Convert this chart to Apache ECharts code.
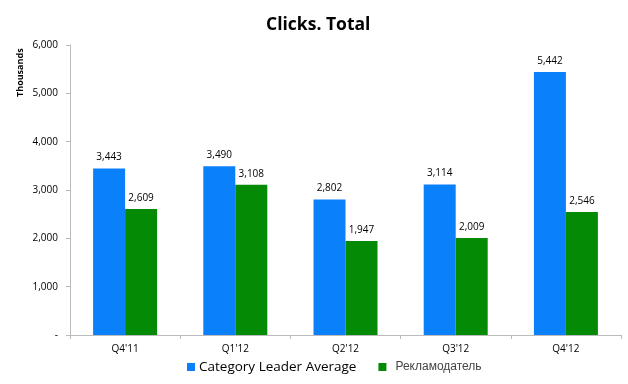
<!DOCTYPE html>
<html><head><meta charset="utf-8">
<script src="https://cdn.jsdelivr.net/npm/echarts@6/dist/echarts.min.js"></script>
<style>html,body{margin:0;padding:0;background:#fff}#c{width:628px;height:384px}</style>
</head><body><div id="c"></div>
<script>
const categories = ["Q4'11", "Q1'12", "Q2'12", "Q3'12", "Q4'12"];
const leaderValues = [3443, 3490, 2802, 3114, 5442];
const advertiserValues = [2609, 3108, 1947, 2009, 2546];
const seriesNames = ["Category Leader Average", "Рекламодатель"];

const chart = echarts.init(document.getElementById('c'));
const fmt = v => v === 0 ? '-' : v.toLocaleString('en-US');
chart.setOption({
  backgroundColor: '#ffffff',
  animation: false,
  textStyle: { fontFamily: 'Open Sans' },
  title: { text: 'Clicks. Total', left: 261, top: 11,
    textStyle: { fontFamily: 'Open Sans', fontSize: 17.5, fontWeight: 'bold', color: '#000' } },
  grid: { left: 70, right: 7, top: 45, bottom: 49 },
  graphic: [{ type: 'text', x: 16, y: 97, rotation: Math.PI / 2,
    style: { text: 'Thousands', fontFamily: 'Open Sans', fontSize: 9, fontWeight: 'bold', fill: '#000' } }],
  legend: { bottom: 5, left: 182, itemWidth: 8, itemHeight: 8, itemGap: 22, icon: 'rect',
    formatter: n => n === seriesNames[0] ? '{a|' + n + '}' : '{b|' + n + '}',
    textStyle: { rich: {
      a: { fontFamily: 'Open Sans', fontSize: 13.5, color: '#000', padding: [0, 0, 0, -1] },
      b: { fontFamily: 'Liberation Sans', fontSize: 12, color: '#444', padding: [0, 0, 0, 4] } } } },
  xAxis: { type: 'category', data: categories,
    axisLine: { lineStyle: { color: '#bbb' } },
    axisTick: { show: true, length: 4, lineStyle: { color: '#bbb' } },
    axisLabel: { fontSize: 10, color: '#000', margin: 9, fontFamily: 'Open Sans' } },
  yAxis: { type: 'value', min: 0, max: 6000, interval: 1000,
    splitLine: { show: false },
    axisLine: { show: true, lineStyle: { color: '#bbb' } },
    axisTick: { show: true, length: 4, lineStyle: { color: '#bbb' } },
    axisLabel: { fontSize: 10, color: '#000', margin: 12, formatter: fmt, fontFamily: 'Open Sans' } },
  series: [
    { name: seriesNames[0], type: 'bar', data: leaderValues, barWidth: 32, barGap: '0%',
      itemStyle: { color: '#0a80fb' },
      label: { show: true, position: 'top', distance: 6, fontSize: 10, color: '#000', formatter: p => fmt(p.value) } },
    { name: seriesNames[1], type: 'bar', data: advertiserValues, barWidth: 32,
      itemStyle: { color: '#058a05' },
      label: { show: true, position: 'top', distance: 6, fontSize: 10, color: '#000', formatter: p => fmt(p.value) } }
  ]
});
</script></body></html>
